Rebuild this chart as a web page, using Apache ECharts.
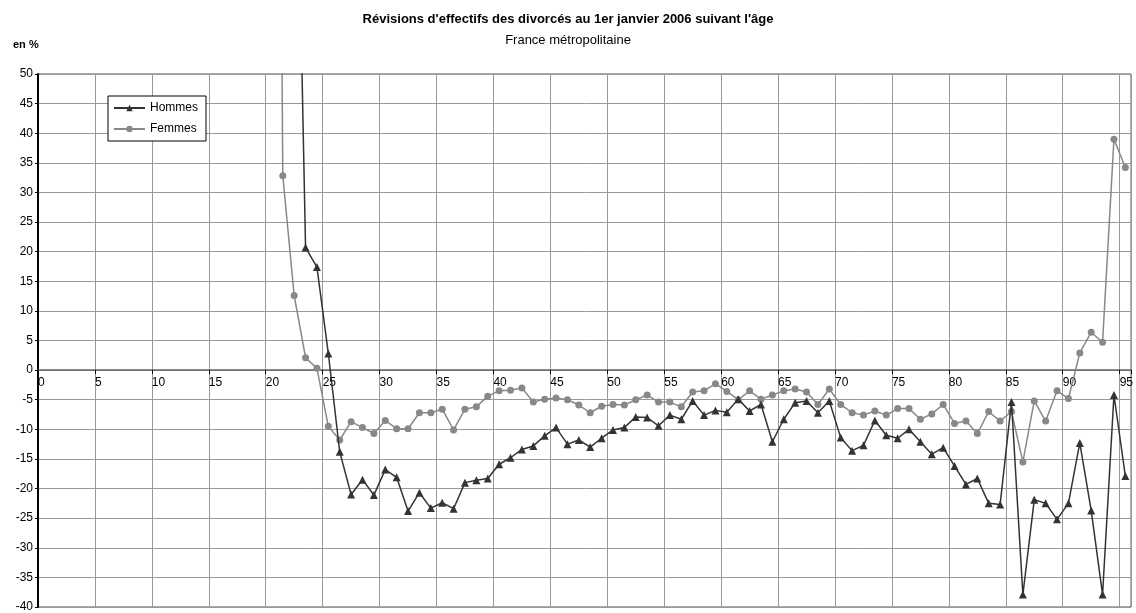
<!DOCTYPE html>
<html>
<head>
<meta charset="utf-8">
<script src="https://cdn.jsdelivr.net/npm/echarts@6/dist/echarts.min.js"></script>
<style>
html,body{margin:0;padding:0;background:#fff;}
#chart{width:1136px;height:613px;}
</style>
</head>
<body>
<div id="chart"></div>
<script>
// Ages (categories)
var ages = [];
for (var a = 0; a <= 95; a++) ages.push(a);

// Hommes: ages 0..21 no value, 22..95 values (%)
var hommesStartAge = 22;
var hommesValues = [115, 20.7, 17.4, 2.8, -13.8, -21.0, -18.5, -21.1, -16.8, -18.1,
  -23.8, -20.7, -23.3, -22.4, -23.4, -19.0, -18.6, -18.3, -15.9, -14.8,
  -13.4, -12.8, -11.1, -9.7, -12.5, -11.8, -13.0, -11.5, -10.1, -9.7,
  -7.9, -8.0, -9.4, -7.6, -8.3, -5.2, -7.6, -6.8, -7.1, -4.9,
  -6.9, -5.8, -12.1, -8.3, -5.5, -5.2, -7.2, -5.2, -11.4, -13.6,
  -12.7, -8.5, -11.0, -11.5, -10.0, -12.1, -14.2, -13.1, -16.2, -19.3,
  -18.3, -22.5, -22.7, -5.4, -37.9, -21.9, -22.5, -25.2, -22.5, -12.3,
  -23.7, -37.9, -4.2, -17.9];

// Femmes: ages 0..19 no value, 20..95 values (%)
var femmesStartAge = 20;
var femmesValues = [300, 32.8, 12.6, 2.1, 0.3, -9.5, -11.8, -8.7, -9.7, -10.7,
  -8.5, -9.9, -9.9, -7.2, -7.2, -6.6, -10.1, -6.6, -6.2, -4.4,
  -3.5, -3.4, -3.0, -5.4, -4.9, -4.7, -5.0, -5.9, -7.2, -6.1,
  -5.8, -5.9, -5.0, -4.2, -5.4, -5.4, -6.2, -3.7, -3.5, -2.3,
  -3.6, -5.0, -3.5, -4.9, -4.2, -3.5, -3.2, -3.7, -5.8, -3.2,
  -5.8, -7.2, -7.6, -6.9, -7.6, -6.5, -6.5, -8.3, -7.4, -5.8,
  -9.0, -8.6, -10.7, -7.0, -8.6, -7.0, -15.5, -5.2, -8.6, -3.5,
  -4.8, 2.9, 6.4, 4.7, 39.0, 34.2];

var seriesNames = ['Hommes', 'Femmes'];
var titleText = "Révisions d'effectifs des divorcés au 1er janvier 2006 suivant l'âge";
var subtitleText = 'France métropolitaine';
var unitText = 'en %';

// each age sits in the middle of its category band
var BAND_CENTER = 0.5;
function toPoints(startAge, values) {
  return values.map(function (v, i) { return [startAge + i + BAND_CENTER, v]; });
}

var font = 'Liberation Sans, Arial, sans-serif';
var chart = echarts.init(document.getElementById('chart'), null, {renderer: 'canvas'});
chart.setOption({
  animation: false,
  backgroundColor: '#fff',
  title: [
    {text: titleText, left: 'center', top: 8,
     textStyle: {fontFamily: font, fontSize: 13, fontWeight: 'bold', color: '#000'}},
    {text: subtitleText, left: 'center', top: 29,
     textStyle: {fontFamily: font, fontSize: 13, fontWeight: 'normal', color: '#000'}},
    {text: unitText, left: 8, top: 34,
     textStyle: {fontFamily: font, fontSize: 11, fontWeight: 'bold', color: '#000'}}
  ],
  legend: {
    orient: 'vertical', left: 108, top: 96,
    data: seriesNames,
    itemWidth: 31, itemHeight: 8, itemGap: 9,
    padding: [6, 8, 6, 5],
    borderColor: '#000', borderWidth: 1,
    backgroundColor: '#fff',
    textStyle: {fontFamily: font, fontSize: 12, color: '#000'}
  },
  grid: {left: 38, right: 4, top: 74, bottom: 6, show: true, borderColor: '#555', borderWidth: 1, containLabel: false},
  xAxis: {
    type: 'value', min: 0, max: 96, interval: 5,
    axisLine: {onZero: true, lineStyle: {color: '#666', width: 1.5}},
    axisTick: {show: true, inside: false, length: 4, lineStyle: {color: '#000'}},
    axisLabel: {
      fontFamily: font, fontSize: 12, color: '#000', align: 'left', margin: -230,
      formatter: function (v) { return v % 5 === 0 ? String(v) : ''; }
    },
    splitLine: {show: true, lineStyle: {color: '#999', width: 1}}
  },
  yAxis: {
    type: 'value', min: -40, max: 50, interval: 5,
    axisLine: {show: true, onZero: false, lineStyle: {color: '#000', width: 2}},
    axisTick: {show: true, inside: false, length: 3, lineStyle: {color: '#000'}},
    axisLabel: {fontFamily: font, fontSize: 12, color: '#000', margin: 5},
    splitLine: {show: true, lineStyle: {color: '#999', width: 1}}
  },
  series: [
    {name: seriesNames[0], type: 'line', data: toPoints(hommesStartAge, hommesValues),
     symbol: 'triangle', symbolSize: 8, clip: true,
     lineStyle: {color: '#333', width: 1.5}, itemStyle: {color: '#333'}, z: 3},
    {name: seriesNames[1], type: 'line', data: toPoints(femmesStartAge, femmesValues),
     symbol: 'circle', symbolSize: 7, clip: true,
     lineStyle: {color: '#888', width: 1.5}, itemStyle: {color: '#888'}, z: 2}
  ]
});
</script>
</body>
</html>
